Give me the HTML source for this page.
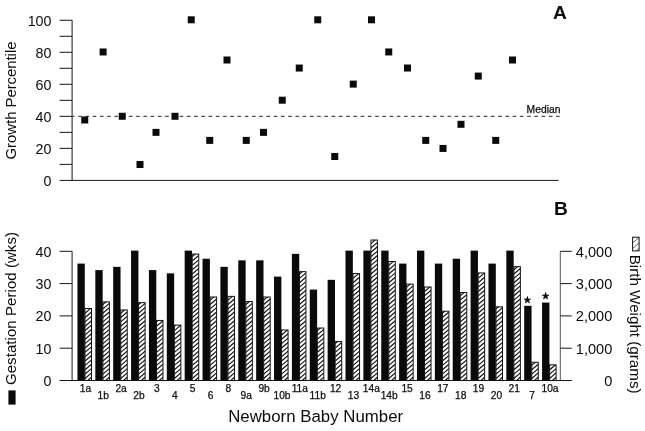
<!DOCTYPE html><html><head><meta charset="utf-8"><title>Figure</title><style>html,body{margin:0;padding:0;background:#fff}svg{display:block}text{font-family:"Liberation Sans",Arial,Helvetica,sans-serif;fill:#0c0c0c}.s{stroke:#0c0c0c;stroke-width:.25}</style></head><body>
<svg width="645" height="431" viewBox="0 0 645 431">
<rect width="645" height="431" fill="#fff"/>
<g stroke="#161616" stroke-width="1" fill="none">
<path d="M72.1,20.25 V180.4"/>
<path d="M59.6,180.4 H558.5"/>
<path d="M59.6,164.38 H72.1"/>
<path d="M59.6,148.37 H72.1"/>
<path d="M59.6,132.36 H72.1"/>
<path d="M59.6,116.34 H72.1"/>
<path d="M59.6,100.33 H72.1"/>
<path d="M59.6,84.31 H72.1"/>
<path d="M59.6,68.30 H72.1"/>
<path d="M59.6,52.28 H72.1"/>
<path d="M59.6,36.27 H72.1"/>
<path d="M59.6,20.25 H72.1"/>
<path d="M72.5,116.3 H560.5" stroke-dasharray="3.6 3.64" stroke-dashoffset="1.5" stroke="#222"/>
</g>
<text x="51.5" y="185.70" font-size="14.3" text-anchor="end">0</text>
<text x="51.5" y="153.67" font-size="14.3" text-anchor="end">20</text>
<text x="51.5" y="121.64" font-size="14.3" text-anchor="end">40</text>
<text x="51.5" y="89.61" font-size="14.3" text-anchor="end">60</text>
<text x="51.5" y="57.58" font-size="14.3" text-anchor="end">80</text>
<text x="51.5" y="25.55" font-size="14.3" text-anchor="end">100</text>
<text transform="translate(16,100.5) rotate(-90)" font-size="15" text-anchor="middle" textLength="118" lengthAdjust="spacing">Growth Percentile</text>
<text class="s" x="560.4" y="113.3" font-size="10.3" text-anchor="end">Median</text>
<text x="559.9" y="19.1" font-size="19.2" font-weight="bold" text-anchor="middle">A</text>
<text x="560.9" y="214.9" font-size="19.2" font-weight="bold" text-anchor="middle">B</text>
<rect x="81.25" y="116.48" width="7" height="7" fill="#0a0a0a"/>
<rect x="99.60" y="48.46" width="7" height="7" fill="#0a0a0a"/>
<rect x="118.75" y="112.78" width="7" height="7" fill="#0a0a0a"/>
<rect x="136.50" y="161.02" width="7" height="7" fill="#0a0a0a"/>
<rect x="152.50" y="128.86" width="7" height="7" fill="#0a0a0a"/>
<rect x="171.50" y="112.78" width="7" height="7" fill="#0a0a0a"/>
<rect x="187.75" y="16.30" width="7" height="7" fill="#0a0a0a"/>
<rect x="206.25" y="136.90" width="7" height="7" fill="#0a0a0a"/>
<rect x="223.50" y="56.50" width="7" height="7" fill="#0a0a0a"/>
<rect x="242.75" y="136.90" width="7" height="7" fill="#0a0a0a"/>
<rect x="260.00" y="128.86" width="7" height="7" fill="#0a0a0a"/>
<rect x="278.75" y="96.70" width="7" height="7" fill="#0a0a0a"/>
<rect x="295.75" y="64.54" width="7" height="7" fill="#0a0a0a"/>
<rect x="314.25" y="16.30" width="7" height="7" fill="#0a0a0a"/>
<rect x="331.25" y="152.98" width="7" height="7" fill="#0a0a0a"/>
<rect x="349.75" y="80.62" width="7" height="7" fill="#0a0a0a"/>
<rect x="368.00" y="16.30" width="7" height="7" fill="#0a0a0a"/>
<rect x="385.25" y="48.46" width="7" height="7" fill="#0a0a0a"/>
<rect x="404.00" y="64.54" width="7" height="7" fill="#0a0a0a"/>
<rect x="422.25" y="136.90" width="7" height="7" fill="#0a0a0a"/>
<rect x="439.50" y="144.94" width="7" height="7" fill="#0a0a0a"/>
<rect x="457.50" y="120.82" width="7" height="7" fill="#0a0a0a"/>
<rect x="474.75" y="72.58" width="7" height="7" fill="#0a0a0a"/>
<rect x="492.25" y="136.90" width="7" height="7" fill="#0a0a0a"/>
<rect x="509.00" y="56.50" width="7" height="7" fill="#0a0a0a"/>
<g stroke="#161616" stroke-width="1" fill="none">
<path d="M72.1,251.3 V380.5"/>
<path d="M59.6,380.5 H571.75"/>
<path d="M560.3,251.3 V380.5" stroke="#555"/>
<path d="M59.6,348.20 H72.1"/>
<path d="M560.3,348.20 H571.75"/>
<path d="M59.6,315.90 H72.1"/>
<path d="M560.3,315.90 H571.75"/>
<path d="M59.6,283.60 H72.1"/>
<path d="M560.3,283.60 H571.75"/>
<path d="M59.6,251.30 H72.1"/>
<path d="M560.3,251.30 H571.75"/>
</g>
<text x="51.5" y="385.80" font-size="14.3" text-anchor="end">0</text>
<text x="612.3" y="385.80" font-size="14.6" text-anchor="end">0</text>
<text x="51.5" y="353.50" font-size="14.3" text-anchor="end">10</text>
<text x="612.3" y="353.50" font-size="14.6" text-anchor="end">1,000</text>
<text x="51.5" y="321.20" font-size="14.3" text-anchor="end">20</text>
<text x="612.3" y="321.20" font-size="14.6" text-anchor="end">2,000</text>
<text x="51.5" y="288.90" font-size="14.3" text-anchor="end">30</text>
<text x="612.3" y="288.90" font-size="14.6" text-anchor="end">3,000</text>
<text x="51.5" y="256.60" font-size="14.3" text-anchor="end">40</text>
<text x="612.3" y="256.60" font-size="14.6" text-anchor="end">4,000</text>
<rect x="77.45" y="263.61" width="7.35" height="116.89" fill="#0a0a0a"/>
<svg x="85.00" y="308.49" width="6.50" height="72.01" overflow="hidden"><path d="M0,-3.99 L6.50,-9.51 M0,0.36 L6.50,-5.16 M0,4.71 L6.50,-0.81 M0,9.06 L6.50,3.54 M0,13.41 L6.50,7.89 M0,17.76 L6.50,12.24 M0,22.11 L6.50,16.59 M0,26.46 L6.50,20.94 M0,30.81 L6.50,25.29 M0,35.16 L6.50,29.64 M0,39.51 L6.50,33.99 M0,43.86 L6.50,38.34 M0,48.21 L6.50,42.69 M0,52.56 L6.50,47.04 M0,56.91 L6.50,51.39 M0,61.26 L6.50,55.74 M0,65.61 L6.50,60.09 M0,69.96 L6.50,64.44 M0,74.31 L6.50,68.79 M0,78.66 L6.50,73.14" stroke="#111" stroke-width="1.15" fill="none"/></svg><rect x="85.00" y="308.49" width="6.50" height="72.01" fill="none" stroke="#111" stroke-width="1"/>
<rect x="95.32" y="270.10" width="7.35" height="110.40" fill="#0a0a0a"/>
<svg x="102.87" y="301.87" width="6.50" height="78.63" overflow="hidden"><path d="M0,-1.72 L6.50,-7.24 M0,2.63 L6.50,-2.89 M0,6.99 L6.50,1.46 M0,11.34 L6.50,5.81 M0,15.69 L6.50,10.16 M0,20.04 L6.50,14.51 M0,24.39 L6.50,18.86 M0,28.74 L6.50,23.21 M0,33.09 L6.50,27.56 M0,37.44 L6.50,31.91 M0,41.79 L6.50,36.26 M0,46.14 L6.50,40.61 M0,50.49 L6.50,44.96 M0,54.84 L6.50,49.31 M0,59.19 L6.50,53.66 M0,63.54 L6.50,58.01 M0,67.89 L6.50,62.36 M0,72.24 L6.50,66.71 M0,76.59 L6.50,71.06 M0,80.94 L6.50,75.41 M0,85.29 L6.50,79.76" stroke="#111" stroke-width="1.15" fill="none"/></svg><rect x="102.87" y="301.87" width="6.50" height="78.63" fill="none" stroke="#111" stroke-width="1"/>
<rect x="113.19" y="266.86" width="7.35" height="113.64" fill="#0a0a0a"/>
<svg x="120.74" y="309.94" width="6.50" height="70.56" overflow="hidden"><path d="M0,-1.09 L6.50,-6.62 M0,3.26 L6.50,-2.27 M0,7.61 L6.50,2.09 M0,11.96 L6.50,6.44 M0,16.31 L6.50,10.79 M0,20.66 L6.50,15.14 M0,25.01 L6.50,19.49 M0,29.36 L6.50,23.84 M0,33.71 L6.50,28.19 M0,38.06 L6.50,32.54 M0,42.41 L6.50,36.89 M0,46.76 L6.50,41.24 M0,51.11 L6.50,45.59 M0,55.46 L6.50,49.94 M0,59.81 L6.50,54.29 M0,64.16 L6.50,58.64 M0,68.51 L6.50,62.99 M0,72.86 L6.50,67.34 M0,77.21 L6.50,71.69" stroke="#111" stroke-width="1.15" fill="none"/></svg><rect x="120.74" y="309.94" width="6.50" height="70.56" fill="none" stroke="#111" stroke-width="1"/>
<rect x="131.06" y="250.62" width="7.35" height="129.88" fill="#0a0a0a"/>
<svg x="138.61" y="302.67" width="6.50" height="77.83" overflow="hidden"><path d="M0,-2.52 L6.50,-8.05 M0,1.83 L6.50,-3.70 M0,6.18 L6.50,0.65 M0,10.53 L6.50,5.00 M0,14.88 L6.50,9.35 M0,19.23 L6.50,13.70 M0,23.58 L6.50,18.05 M0,27.93 L6.50,22.40 M0,32.28 L6.50,26.75 M0,36.63 L6.50,31.10 M0,40.98 L6.50,35.45 M0,45.33 L6.50,39.80 M0,49.68 L6.50,44.15 M0,54.03 L6.50,48.50 M0,58.38 L6.50,52.85 M0,62.73 L6.50,57.20 M0,67.08 L6.50,61.55 M0,71.43 L6.50,65.90 M0,75.78 L6.50,70.25 M0,80.13 L6.50,74.60 M0,84.48 L6.50,78.95" stroke="#111" stroke-width="1.15" fill="none"/></svg><rect x="138.61" y="302.67" width="6.50" height="77.83" fill="none" stroke="#111" stroke-width="1"/>
<rect x="148.93" y="270.10" width="7.35" height="110.40" fill="#0a0a0a"/>
<svg x="156.48" y="320.44" width="6.50" height="60.06" overflow="hidden"><path d="M0,-2.89 L6.50,-8.41 M0,1.46 L6.50,-4.06 M0,5.81 L6.50,0.29 M0,10.16 L6.50,4.64 M0,14.51 L6.50,8.99 M0,18.86 L6.50,13.34 M0,23.21 L6.50,17.69 M0,27.56 L6.50,22.04 M0,31.91 L6.50,26.39 M0,36.26 L6.50,30.74 M0,40.61 L6.50,35.09 M0,44.96 L6.50,39.44 M0,49.31 L6.50,43.79 M0,53.66 L6.50,48.14 M0,58.01 L6.50,52.49 M0,62.36 L6.50,56.84 M0,66.71 L6.50,61.19" stroke="#111" stroke-width="1.15" fill="none"/></svg><rect x="156.48" y="320.44" width="6.50" height="60.06" fill="none" stroke="#111" stroke-width="1"/>
<rect x="166.80" y="273.35" width="7.35" height="107.15" fill="#0a0a0a"/>
<svg x="174.35" y="325.12" width="6.50" height="55.38" overflow="hidden"><path d="M0,-3.22 L6.50,-8.75 M0,1.13 L6.50,-4.40 M0,5.48 L6.50,-0.05 M0,9.83 L6.50,4.30 M0,14.18 L6.50,8.65 M0,18.53 L6.50,13.00 M0,22.88 L6.50,17.35 M0,27.23 L6.50,21.70 M0,31.58 L6.50,26.05 M0,35.93 L6.50,30.40 M0,40.28 L6.50,34.75 M0,44.63 L6.50,39.10 M0,48.98 L6.50,43.45 M0,53.33 L6.50,47.80 M0,57.68 L6.50,52.15 M0,62.03 L6.50,56.50" stroke="#111" stroke-width="1.15" fill="none"/></svg><rect x="174.35" y="325.12" width="6.50" height="55.38" fill="none" stroke="#111" stroke-width="1"/>
<rect x="184.67" y="250.62" width="7.35" height="129.88" fill="#0a0a0a"/>
<svg x="192.22" y="254.06" width="6.50" height="126.44" overflow="hidden"><path d="M0,-1.76 L6.50,-7.29 M0,2.59 L6.50,-2.94 M0,6.94 L6.50,1.41 M0,11.29 L6.50,5.76 M0,15.64 L6.50,10.11 M0,19.99 L6.50,14.46 M0,24.34 L6.50,18.81 M0,28.69 L6.50,23.16 M0,33.04 L6.50,27.51 M0,37.39 L6.50,31.86 M0,41.74 L6.50,36.21 M0,46.09 L6.50,40.56 M0,50.44 L6.50,44.91 M0,54.79 L6.50,49.26 M0,59.14 L6.50,53.61 M0,63.49 L6.50,57.96 M0,67.84 L6.50,62.31 M0,72.19 L6.50,66.66 M0,76.54 L6.50,71.01 M0,80.89 L6.50,75.36 M0,85.24 L6.50,79.71 M0,89.59 L6.50,84.06 M0,93.94 L6.50,88.41 M0,98.29 L6.50,92.76 M0,102.64 L6.50,97.11 M0,106.99 L6.50,101.46 M0,111.34 L6.50,105.81 M0,115.69 L6.50,110.16 M0,120.04 L6.50,114.51 M0,124.39 L6.50,118.86 M0,128.74 L6.50,123.21 M0,133.09 L6.50,127.56" stroke="#111" stroke-width="1.15" fill="none"/></svg><rect x="192.22" y="254.06" width="6.50" height="126.44" fill="none" stroke="#111" stroke-width="1"/>
<rect x="202.54" y="258.74" width="7.35" height="121.76" fill="#0a0a0a"/>
<svg x="210.09" y="297.02" width="6.50" height="83.48" overflow="hidden"><path d="M0,-1.22 L6.50,-6.75 M0,3.13 L6.50,-2.40 M0,7.48 L6.50,1.96 M0,11.83 L6.50,6.31 M0,16.18 L6.50,10.66 M0,20.53 L6.50,15.01 M0,24.88 L6.50,19.36 M0,29.23 L6.50,23.71 M0,33.58 L6.50,28.06 M0,37.93 L6.50,32.41 M0,42.28 L6.50,36.76 M0,46.63 L6.50,41.11 M0,50.98 L6.50,45.46 M0,55.33 L6.50,49.81 M0,59.68 L6.50,54.16 M0,64.03 L6.50,58.51 M0,68.38 L6.50,62.86 M0,72.73 L6.50,67.21 M0,77.08 L6.50,71.56 M0,81.43 L6.50,75.91 M0,85.78 L6.50,80.26 M0,90.13 L6.50,84.61" stroke="#111" stroke-width="1.15" fill="none"/></svg><rect x="210.09" y="297.02" width="6.50" height="83.48" fill="none" stroke="#111" stroke-width="1"/>
<rect x="220.41" y="266.86" width="7.35" height="113.64" fill="#0a0a0a"/>
<svg x="227.96" y="296.37" width="6.50" height="84.13" overflow="hidden"><path d="M0,-0.57 L6.50,-6.10 M0,3.78 L6.50,-1.75 M0,8.13 L6.50,2.60 M0,12.48 L6.50,6.95 M0,16.83 L6.50,11.30 M0,21.18 L6.50,15.65 M0,25.53 L6.50,20.00 M0,29.88 L6.50,24.35 M0,34.23 L6.50,28.70 M0,38.58 L6.50,33.05 M0,42.93 L6.50,37.40 M0,47.28 L6.50,41.75 M0,51.63 L6.50,46.10 M0,55.98 L6.50,50.45 M0,60.33 L6.50,54.80 M0,64.68 L6.50,59.15 M0,69.03 L6.50,63.50 M0,73.38 L6.50,67.85 M0,77.73 L6.50,72.20 M0,82.08 L6.50,76.55 M0,86.43 L6.50,80.90 M0,90.78 L6.50,85.25" stroke="#111" stroke-width="1.15" fill="none"/></svg><rect x="227.96" y="296.37" width="6.50" height="84.13" fill="none" stroke="#111" stroke-width="1"/>
<rect x="238.28" y="260.36" width="7.35" height="120.14" fill="#0a0a0a"/>
<svg x="245.83" y="301.54" width="6.50" height="78.96" overflow="hidden"><path d="M0,-1.39 L6.50,-6.92 M0,2.96 L6.50,-2.57 M0,7.31 L6.50,1.78 M0,11.66 L6.50,6.13 M0,16.01 L6.50,10.48 M0,20.36 L6.50,14.83 M0,24.71 L6.50,19.18 M0,29.06 L6.50,23.53 M0,33.41 L6.50,27.88 M0,37.76 L6.50,32.23 M0,42.11 L6.50,36.58 M0,46.46 L6.50,40.93 M0,50.81 L6.50,45.28 M0,55.16 L6.50,49.63 M0,59.51 L6.50,53.98 M0,63.86 L6.50,58.33 M0,68.21 L6.50,62.68 M0,72.56 L6.50,67.03 M0,76.91 L6.50,71.38 M0,81.26 L6.50,75.73 M0,85.61 L6.50,80.08" stroke="#111" stroke-width="1.15" fill="none"/></svg><rect x="245.83" y="301.54" width="6.50" height="78.96" fill="none" stroke="#111" stroke-width="1"/>
<rect x="256.15" y="260.36" width="7.35" height="120.14" fill="#0a0a0a"/>
<svg x="263.70" y="297.02" width="6.50" height="83.48" overflow="hidden"><path d="M0,-1.22 L6.50,-6.75 M0,3.13 L6.50,-2.40 M0,7.48 L6.50,1.96 M0,11.83 L6.50,6.31 M0,16.18 L6.50,10.66 M0,20.53 L6.50,15.01 M0,24.88 L6.50,19.36 M0,29.23 L6.50,23.71 M0,33.58 L6.50,28.06 M0,37.93 L6.50,32.41 M0,42.28 L6.50,36.76 M0,46.63 L6.50,41.11 M0,50.98 L6.50,45.46 M0,55.33 L6.50,49.81 M0,59.68 L6.50,54.16 M0,64.03 L6.50,58.51 M0,68.38 L6.50,62.86 M0,72.73 L6.50,67.21 M0,77.08 L6.50,71.56 M0,81.43 L6.50,75.91 M0,85.78 L6.50,80.26 M0,90.13 L6.50,84.61" stroke="#111" stroke-width="1.15" fill="none"/></svg><rect x="263.70" y="297.02" width="6.50" height="83.48" fill="none" stroke="#111" stroke-width="1"/>
<rect x="274.02" y="276.60" width="7.35" height="103.90" fill="#0a0a0a"/>
<svg x="281.57" y="329.97" width="6.50" height="50.53" overflow="hidden"><path d="M0,-3.72 L6.50,-9.24 M0,0.63 L6.50,-4.89 M0,4.98 L6.50,-0.54 M0,9.33 L6.50,3.81 M0,13.68 L6.50,8.16 M0,18.03 L6.50,12.51 M0,22.38 L6.50,16.86 M0,26.73 L6.50,21.21 M0,31.08 L6.50,25.56 M0,35.43 L6.50,29.91 M0,39.78 L6.50,34.26 M0,44.13 L6.50,38.61 M0,48.48 L6.50,42.96 M0,52.83 L6.50,47.31 M0,57.18 L6.50,51.66" stroke="#111" stroke-width="1.15" fill="none"/></svg><rect x="281.57" y="329.97" width="6.50" height="50.53" fill="none" stroke="#111" stroke-width="1"/>
<rect x="291.89" y="253.87" width="7.35" height="126.63" fill="#0a0a0a"/>
<svg x="299.44" y="271.66" width="6.50" height="108.84" overflow="hidden"><path d="M0,-1.96 L6.50,-7.49 M0,2.39 L6.50,-3.14 M0,6.74 L6.50,1.21 M0,11.09 L6.50,5.56 M0,15.44 L6.50,9.91 M0,19.79 L6.50,14.26 M0,24.14 L6.50,18.61 M0,28.49 L6.50,22.96 M0,32.84 L6.50,27.31 M0,37.19 L6.50,31.66 M0,41.54 L6.50,36.01 M0,45.89 L6.50,40.36 M0,50.24 L6.50,44.71 M0,54.59 L6.50,49.06 M0,58.94 L6.50,53.41 M0,63.29 L6.50,57.76 M0,67.64 L6.50,62.11 M0,71.99 L6.50,66.46 M0,76.34 L6.50,70.81 M0,80.69 L6.50,75.16 M0,85.04 L6.50,79.51 M0,89.39 L6.50,83.86 M0,93.74 L6.50,88.21 M0,98.09 L6.50,92.56 M0,102.44 L6.50,96.91 M0,106.79 L6.50,101.26 M0,111.14 L6.50,105.61 M0,115.49 L6.50,109.96" stroke="#111" stroke-width="1.15" fill="none"/></svg><rect x="299.44" y="271.66" width="6.50" height="108.84" fill="none" stroke="#111" stroke-width="1"/>
<rect x="309.76" y="289.58" width="7.35" height="90.92" fill="#0a0a0a"/>
<svg x="317.31" y="328.03" width="6.50" height="52.47" overflow="hidden"><path d="M0,-1.78 L6.50,-7.30 M0,2.57 L6.50,-2.95 M0,6.92 L6.50,1.40 M0,11.27 L6.50,5.75 M0,15.62 L6.50,10.10 M0,19.97 L6.50,14.45 M0,24.32 L6.50,18.80 M0,28.67 L6.50,23.15 M0,33.02 L6.50,27.50 M0,37.37 L6.50,31.85 M0,41.72 L6.50,36.20 M0,46.07 L6.50,40.55 M0,50.42 L6.50,44.90 M0,54.77 L6.50,49.25 M0,59.12 L6.50,53.60" stroke="#111" stroke-width="1.15" fill="none"/></svg><rect x="317.31" y="328.03" width="6.50" height="52.47" fill="none" stroke="#111" stroke-width="1"/>
<rect x="327.63" y="279.84" width="7.35" height="100.66" fill="#0a0a0a"/>
<svg x="335.18" y="341.59" width="6.50" height="38.91" overflow="hidden"><path d="M0,-2.29 L6.50,-7.82 M0,2.06 L6.50,-3.47 M0,6.41 L6.50,0.88 M0,10.76 L6.50,5.23 M0,15.11 L6.50,9.58 M0,19.46 L6.50,13.93 M0,23.81 L6.50,18.28 M0,28.16 L6.50,22.63 M0,32.51 L6.50,26.98 M0,36.86 L6.50,31.33 M0,41.21 L6.50,35.68 M0,45.56 L6.50,40.03" stroke="#111" stroke-width="1.15" fill="none"/></svg><rect x="335.18" y="341.59" width="6.50" height="38.91" fill="none" stroke="#111" stroke-width="1"/>
<rect x="345.50" y="250.62" width="7.35" height="129.88" fill="#0a0a0a"/>
<svg x="353.05" y="273.60" width="6.50" height="106.90" overflow="hidden"><path d="M0,-3.90 L6.50,-9.43 M0,0.45 L6.50,-5.08 M0,4.80 L6.50,-0.73 M0,9.15 L6.50,3.62 M0,13.50 L6.50,7.97 M0,17.85 L6.50,12.32 M0,22.20 L6.50,16.67 M0,26.55 L6.50,21.02 M0,30.90 L6.50,25.37 M0,35.25 L6.50,29.72 M0,39.60 L6.50,34.07 M0,43.95 L6.50,38.42 M0,48.30 L6.50,42.77 M0,52.65 L6.50,47.12 M0,57.00 L6.50,51.47 M0,61.35 L6.50,55.82 M0,65.70 L6.50,60.17 M0,70.05 L6.50,64.52 M0,74.40 L6.50,68.87 M0,78.75 L6.50,73.22 M0,83.10 L6.50,77.57 M0,87.45 L6.50,81.92 M0,91.80 L6.50,86.27 M0,96.15 L6.50,90.62 M0,100.50 L6.50,94.97 M0,104.85 L6.50,99.32 M0,109.20 L6.50,103.67 M0,113.55 L6.50,108.02" stroke="#111" stroke-width="1.15" fill="none"/></svg><rect x="353.05" y="273.60" width="6.50" height="106.90" fill="none" stroke="#111" stroke-width="1"/>
<rect x="363.37" y="250.62" width="7.35" height="129.88" fill="#0a0a0a"/>
<svg x="370.92" y="240.01" width="6.50" height="140.49" overflow="hidden"><path d="M0,-0.76 L6.50,-6.29 M0,3.59 L6.50,-1.94 M0,7.94 L6.50,2.41 M0,12.29 L6.50,6.76 M0,16.64 L6.50,11.11 M0,20.99 L6.50,15.46 M0,25.34 L6.50,19.81 M0,29.69 L6.50,24.16 M0,34.04 L6.50,28.51 M0,38.39 L6.50,32.86 M0,42.74 L6.50,37.21 M0,47.09 L6.50,41.56 M0,51.44 L6.50,45.91 M0,55.79 L6.50,50.26 M0,60.14 L6.50,54.61 M0,64.49 L6.50,58.96 M0,68.84 L6.50,63.31 M0,73.19 L6.50,67.66 M0,77.54 L6.50,72.01 M0,81.89 L6.50,76.36 M0,86.24 L6.50,80.71 M0,90.59 L6.50,85.06 M0,94.94 L6.50,89.41 M0,99.29 L6.50,93.76 M0,103.64 L6.50,98.11 M0,107.99 L6.50,102.46 M0,112.34 L6.50,106.81 M0,116.69 L6.50,111.16 M0,121.04 L6.50,115.51 M0,125.39 L6.50,119.86 M0,129.74 L6.50,124.21 M0,134.09 L6.50,128.56 M0,138.44 L6.50,132.91 M0,142.79 L6.50,137.26 M0,147.14 L6.50,141.61" stroke="#111" stroke-width="1.15" fill="none"/></svg><rect x="370.92" y="240.01" width="6.50" height="140.49" fill="none" stroke="#111" stroke-width="1"/>
<rect x="381.24" y="250.62" width="7.35" height="129.88" fill="#0a0a0a"/>
<svg x="388.79" y="261.49" width="6.50" height="119.01" overflow="hidden"><path d="M0,-0.49 L6.50,-6.02 M0,3.86 L6.50,-1.66 M0,8.21 L6.50,2.69 M0,12.56 L6.50,7.04 M0,16.91 L6.50,11.39 M0,21.26 L6.50,15.74 M0,25.61 L6.50,20.09 M0,29.96 L6.50,24.44 M0,34.31 L6.50,28.79 M0,38.66 L6.50,33.14 M0,43.01 L6.50,37.49 M0,47.36 L6.50,41.84 M0,51.71 L6.50,46.19 M0,56.06 L6.50,50.54 M0,60.41 L6.50,54.89 M0,64.76 L6.50,59.24 M0,69.11 L6.50,63.59 M0,73.46 L6.50,67.94 M0,77.81 L6.50,72.29 M0,82.16 L6.50,76.64 M0,86.51 L6.50,80.99 M0,90.86 L6.50,85.34 M0,95.21 L6.50,89.69 M0,99.56 L6.50,94.04 M0,103.91 L6.50,98.39 M0,108.26 L6.50,102.74 M0,112.61 L6.50,107.09 M0,116.96 L6.50,111.44 M0,121.31 L6.50,115.79 M0,125.66 L6.50,120.14" stroke="#111" stroke-width="1.15" fill="none"/></svg><rect x="388.79" y="261.49" width="6.50" height="119.01" fill="none" stroke="#111" stroke-width="1"/>
<rect x="399.11" y="263.61" width="7.35" height="116.89" fill="#0a0a0a"/>
<svg x="406.66" y="284.10" width="6.50" height="96.40" overflow="hidden"><path d="M0,-1.35 L6.50,-6.88 M0,3.00 L6.50,-2.52 M0,7.35 L6.50,1.83 M0,11.70 L6.50,6.18 M0,16.05 L6.50,10.53 M0,20.40 L6.50,14.88 M0,24.75 L6.50,19.23 M0,29.10 L6.50,23.58 M0,33.45 L6.50,27.93 M0,37.80 L6.50,32.28 M0,42.15 L6.50,36.63 M0,46.50 L6.50,40.98 M0,50.85 L6.50,45.33 M0,55.20 L6.50,49.68 M0,59.55 L6.50,54.03 M0,63.90 L6.50,58.38 M0,68.25 L6.50,62.73 M0,72.60 L6.50,67.08 M0,76.95 L6.50,71.43 M0,81.30 L6.50,75.78 M0,85.65 L6.50,80.13 M0,90.00 L6.50,84.48 M0,94.35 L6.50,88.83 M0,98.70 L6.50,93.18 M0,103.05 L6.50,97.53" stroke="#111" stroke-width="1.15" fill="none"/></svg><rect x="406.66" y="284.10" width="6.50" height="96.40" fill="none" stroke="#111" stroke-width="1"/>
<rect x="416.98" y="250.62" width="7.35" height="129.88" fill="#0a0a0a"/>
<svg x="424.53" y="287.01" width="6.50" height="93.49" overflow="hidden"><path d="M0,-4.26 L6.50,-9.78 M0,0.09 L6.50,-5.43 M0,4.44 L6.50,-1.08 M0,8.79 L6.50,3.27 M0,13.14 L6.50,7.62 M0,17.49 L6.50,11.97 M0,21.84 L6.50,16.32 M0,26.19 L6.50,20.67 M0,30.54 L6.50,25.02 M0,34.89 L6.50,29.37 M0,39.24 L6.50,33.72 M0,43.59 L6.50,38.07 M0,47.94 L6.50,42.42 M0,52.29 L6.50,46.77 M0,56.64 L6.50,51.12 M0,60.99 L6.50,55.47 M0,65.34 L6.50,59.82 M0,69.69 L6.50,64.17 M0,74.04 L6.50,68.52 M0,78.39 L6.50,72.87 M0,82.74 L6.50,77.22 M0,87.09 L6.50,81.57 M0,91.44 L6.50,85.92 M0,95.79 L6.50,90.27 M0,100.14 L6.50,94.62" stroke="#111" stroke-width="1.15" fill="none"/></svg><rect x="424.53" y="287.01" width="6.50" height="93.49" fill="none" stroke="#111" stroke-width="1"/>
<rect x="434.85" y="263.61" width="7.35" height="116.89" fill="#0a0a0a"/>
<svg x="442.40" y="311.23" width="6.50" height="69.27" overflow="hidden"><path d="M0,-2.38 L6.50,-7.91 M0,1.97 L6.50,-3.56 M0,6.32 L6.50,0.79 M0,10.67 L6.50,5.14 M0,15.02 L6.50,9.49 M0,19.37 L6.50,13.84 M0,23.72 L6.50,18.19 M0,28.07 L6.50,22.54 M0,32.42 L6.50,26.89 M0,36.77 L6.50,31.24 M0,41.12 L6.50,35.59 M0,45.47 L6.50,39.94 M0,49.82 L6.50,44.29 M0,54.17 L6.50,48.64 M0,58.52 L6.50,52.99 M0,62.87 L6.50,57.34 M0,67.22 L6.50,61.69 M0,71.57 L6.50,66.04 M0,75.92 L6.50,70.39" stroke="#111" stroke-width="1.15" fill="none"/></svg><rect x="442.40" y="311.23" width="6.50" height="69.27" fill="none" stroke="#111" stroke-width="1"/>
<rect x="452.72" y="258.74" width="7.35" height="121.76" fill="#0a0a0a"/>
<svg x="460.27" y="292.50" width="6.50" height="88.00" overflow="hidden"><path d="M0,-1.05 L6.50,-6.57 M0,3.30 L6.50,-2.22 M0,7.65 L6.50,2.13 M0,12.00 L6.50,6.48 M0,16.35 L6.50,10.83 M0,20.70 L6.50,15.18 M0,25.05 L6.50,19.53 M0,29.40 L6.50,23.88 M0,33.75 L6.50,28.23 M0,38.10 L6.50,32.58 M0,42.45 L6.50,36.93 M0,46.80 L6.50,41.28 M0,51.15 L6.50,45.63 M0,55.50 L6.50,49.98 M0,59.85 L6.50,54.33 M0,64.20 L6.50,58.68 M0,68.55 L6.50,63.03 M0,72.90 L6.50,67.38 M0,77.25 L6.50,71.73 M0,81.60 L6.50,76.08 M0,85.95 L6.50,80.43 M0,90.30 L6.50,84.78 M0,94.65 L6.50,89.13" stroke="#111" stroke-width="1.15" fill="none"/></svg><rect x="460.27" y="292.50" width="6.50" height="88.00" fill="none" stroke="#111" stroke-width="1"/>
<rect x="470.59" y="250.62" width="7.35" height="129.88" fill="#0a0a0a"/>
<svg x="478.14" y="272.96" width="6.50" height="107.54" overflow="hidden"><path d="M0,-3.26 L6.50,-8.78 M0,1.09 L6.50,-4.43 M0,5.44 L6.50,-0.08 M0,9.79 L6.50,4.27 M0,14.14 L6.50,8.62 M0,18.49 L6.50,12.97 M0,22.84 L6.50,17.32 M0,27.19 L6.50,21.67 M0,31.54 L6.50,26.02 M0,35.89 L6.50,30.37 M0,40.24 L6.50,34.72 M0,44.59 L6.50,39.07 M0,48.94 L6.50,43.42 M0,53.29 L6.50,47.77 M0,57.64 L6.50,52.12 M0,61.99 L6.50,56.47 M0,66.34 L6.50,60.82 M0,70.69 L6.50,65.17 M0,75.04 L6.50,69.52 M0,79.39 L6.50,73.87 M0,83.74 L6.50,78.22 M0,88.09 L6.50,82.57 M0,92.44 L6.50,86.92 M0,96.79 L6.50,91.27 M0,101.14 L6.50,95.62 M0,105.49 L6.50,99.97 M0,109.84 L6.50,104.32 M0,114.19 L6.50,108.67" stroke="#111" stroke-width="1.15" fill="none"/></svg><rect x="478.14" y="272.96" width="6.50" height="107.54" fill="none" stroke="#111" stroke-width="1"/>
<rect x="488.46" y="263.61" width="7.35" height="116.89" fill="#0a0a0a"/>
<svg x="496.01" y="306.87" width="6.50" height="73.63" overflow="hidden"><path d="M0,-2.37 L6.50,-7.90 M0,1.98 L6.50,-3.55 M0,6.33 L6.50,0.80 M0,10.68 L6.50,5.15 M0,15.03 L6.50,9.50 M0,19.38 L6.50,13.85 M0,23.73 L6.50,18.20 M0,28.08 L6.50,22.55 M0,32.43 L6.50,26.90 M0,36.78 L6.50,31.25 M0,41.13 L6.50,35.60 M0,45.48 L6.50,39.95 M0,49.83 L6.50,44.30 M0,54.18 L6.50,48.65 M0,58.53 L6.50,53.00 M0,62.88 L6.50,57.35 M0,67.23 L6.50,61.70 M0,71.58 L6.50,66.05 M0,75.93 L6.50,70.40 M0,80.28 L6.50,74.75" stroke="#111" stroke-width="1.15" fill="none"/></svg><rect x="496.01" y="306.87" width="6.50" height="73.63" fill="none" stroke="#111" stroke-width="1"/>
<rect x="506.33" y="250.62" width="7.35" height="129.88" fill="#0a0a0a"/>
<svg x="513.88" y="266.66" width="6.50" height="113.84" overflow="hidden"><path d="M0,-1.31 L6.50,-6.83 M0,3.04 L6.50,-2.48 M0,7.39 L6.50,1.87 M0,11.74 L6.50,6.22 M0,16.09 L6.50,10.57 M0,20.44 L6.50,14.92 M0,24.79 L6.50,19.27 M0,29.14 L6.50,23.62 M0,33.49 L6.50,27.97 M0,37.84 L6.50,32.32 M0,42.19 L6.50,36.67 M0,46.54 L6.50,41.02 M0,50.89 L6.50,45.37 M0,55.24 L6.50,49.72 M0,59.59 L6.50,54.07 M0,63.94 L6.50,58.42 M0,68.29 L6.50,62.77 M0,72.64 L6.50,67.12 M0,76.99 L6.50,71.47 M0,81.34 L6.50,75.82 M0,85.69 L6.50,80.17 M0,90.04 L6.50,84.52 M0,94.39 L6.50,88.87 M0,98.74 L6.50,93.22 M0,103.09 L6.50,97.57 M0,107.44 L6.50,101.92 M0,111.79 L6.50,106.27 M0,116.14 L6.50,110.62 M0,120.49 L6.50,114.97" stroke="#111" stroke-width="1.15" fill="none"/></svg><rect x="513.88" y="266.66" width="6.50" height="113.84" fill="none" stroke="#111" stroke-width="1"/>
<rect x="524.20" y="305.82" width="7.35" height="74.68" fill="#0a0a0a"/>
<svg x="531.75" y="362.27" width="6.50" height="18.23" overflow="hidden"><path d="M0,-1.22 L6.50,-6.74 M0,3.13 L6.50,-2.39 M0,7.48 L6.50,1.96 M0,11.83 L6.50,6.31 M0,16.18 L6.50,10.66 M0,20.53 L6.50,15.01 M0,24.88 L6.50,19.36" stroke="#111" stroke-width="1.15" fill="none"/></svg><rect x="531.75" y="362.27" width="6.50" height="18.23" fill="none" stroke="#111" stroke-width="1"/>
<rect x="542.07" y="302.57" width="7.35" height="77.93" fill="#0a0a0a"/>
<svg x="549.62" y="364.85" width="6.50" height="15.65" overflow="hidden"><path d="M0,-3.80 L6.50,-9.33 M0,0.55 L6.50,-4.98 M0,4.90 L6.50,-0.63 M0,9.25 L6.50,3.73 M0,13.60 L6.50,8.08 M0,17.95 L6.50,12.43 M0,22.30 L6.50,16.78" stroke="#111" stroke-width="1.15" fill="none"/></svg><rect x="549.62" y="364.85" width="6.50" height="15.65" fill="none" stroke="#111" stroke-width="1"/>
<text class="s" x="85.40" y="391.6" font-size="10.2" text-anchor="middle">1a</text>
<text class="s" x="103.27" y="398.7" font-size="10.2" text-anchor="middle">1b</text>
<text class="s" x="121.14" y="391.6" font-size="10.2" text-anchor="middle">2a</text>
<text class="s" x="139.01" y="398.7" font-size="10.2" text-anchor="middle">2b</text>
<text class="s" x="156.88" y="391.6" font-size="10.2" text-anchor="middle">3</text>
<text class="s" x="174.75" y="398.7" font-size="10.2" text-anchor="middle">4</text>
<text class="s" x="192.62" y="391.6" font-size="10.2" text-anchor="middle">5</text>
<text class="s" x="210.49" y="398.7" font-size="10.2" text-anchor="middle">6</text>
<text class="s" x="228.36" y="391.6" font-size="10.2" text-anchor="middle">8</text>
<text class="s" x="246.23" y="398.7" font-size="10.2" text-anchor="middle">9a</text>
<text class="s" x="264.10" y="391.6" font-size="10.2" text-anchor="middle">9b</text>
<text class="s" x="281.97" y="398.7" font-size="10.2" text-anchor="middle">10b</text>
<text class="s" x="299.84" y="391.6" font-size="10.2" text-anchor="middle">11a</text>
<text class="s" x="317.71" y="398.7" font-size="10.2" text-anchor="middle">11b</text>
<text class="s" x="335.58" y="391.6" font-size="10.2" text-anchor="middle">12</text>
<text class="s" x="353.45" y="398.7" font-size="10.2" text-anchor="middle">13</text>
<text class="s" x="371.32" y="391.6" font-size="10.2" text-anchor="middle">14a</text>
<text class="s" x="389.19" y="398.7" font-size="10.2" text-anchor="middle">14b</text>
<text class="s" x="407.06" y="391.6" font-size="10.2" text-anchor="middle">15</text>
<text class="s" x="424.93" y="398.7" font-size="10.2" text-anchor="middle">16</text>
<text class="s" x="442.80" y="391.6" font-size="10.2" text-anchor="middle">17</text>
<text class="s" x="460.67" y="398.7" font-size="10.2" text-anchor="middle">18</text>
<text class="s" x="478.54" y="391.6" font-size="10.2" text-anchor="middle">19</text>
<text class="s" x="496.41" y="398.7" font-size="10.2" text-anchor="middle">20</text>
<text class="s" x="514.28" y="391.6" font-size="10.2" text-anchor="middle">21</text>
<text class="s" x="532.15" y="398.7" font-size="10.2" text-anchor="middle">7</text>
<text class="s" x="550.02" y="391.6" font-size="10.2" text-anchor="middle">10a</text>
<text x="527.4" y="302.9" font-size="9.2" text-anchor="middle" style="font-family:'DejaVu Sans',sans-serif;stroke:#0c0c0c;stroke-width:.45;stroke-linejoin:round">★</text>
<text x="545.7" y="299.2" font-size="9.2" text-anchor="middle" style="font-family:'DejaVu Sans',sans-serif;stroke:#0c0c0c;stroke-width:.45;stroke-linejoin:round">★</text>
<text x="228.2" y="422.2" font-size="16.8" textLength="175" lengthAdjust="spacing">Newborn Baby Number</text>
<rect x="8.4" y="390.4" width="7.2" height="14.2" fill="#0a0a0a"/>
<text transform="translate(16.4,385) rotate(-90)" font-size="15" textLength="153" lengthAdjust="spacing">Gestation Period (wks)</text>
<svg x="632.60" y="237.20" width="6.50" height="13.70" overflow="hidden"><path d="M0,-5.20 L6.50,-10.72 M0,0.30 L6.50,-5.22 M0,5.80 L6.50,0.28 M0,11.30 L6.50,5.78 M0,16.80 L6.50,11.28 M0,22.30 L6.50,16.78" stroke="#333" stroke-width="0.8" fill="none"/></svg><rect x="632.60" y="237.20" width="6.50" height="13.70" fill="none" stroke="#111" stroke-width="1"/>
<text transform="translate(629.8,254.7) rotate(90)" font-size="15.2" textLength="138.9" lengthAdjust="spacing">Birth Weight (grams)</text>
</svg></body></html>
